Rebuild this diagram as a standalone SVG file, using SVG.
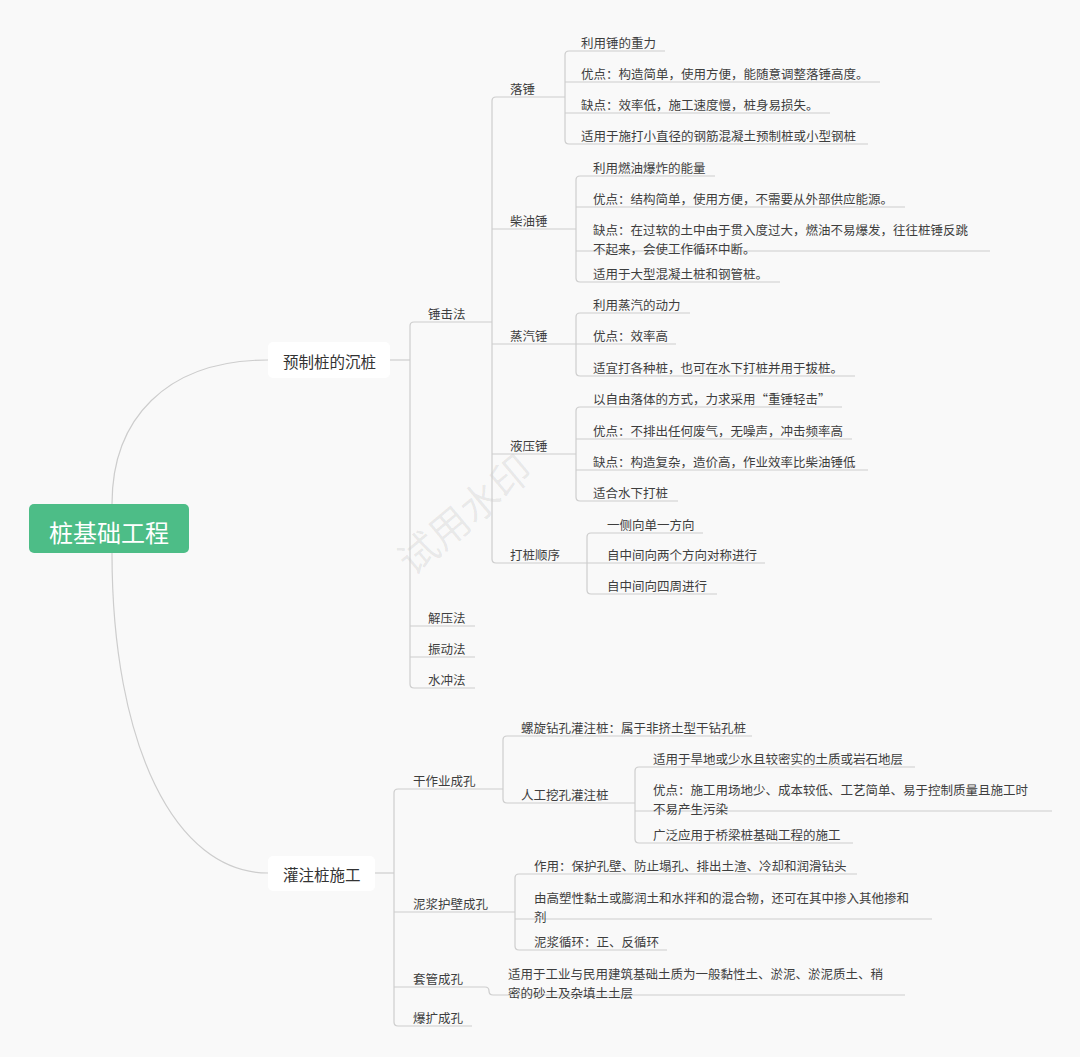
<svg xmlns="http://www.w3.org/2000/svg" width="1080" height="1057" viewBox="0 0 1080 1057">
<style>
.ln{fill:none;stroke:#cdcdcd;stroke-width:1.2}
.ul{stroke:#cdcdcd;stroke-width:1.2}
.t{font-family:"Noto Sans CJK SC","Noto Sans",sans-serif;font-size:12.5px;fill:#3e3e3e;transform:translateY(1px)}
.t1{font-family:"Noto Sans CJK SC","Noto Sans",sans-serif;font-size:15.5px;fill:#333}
.rt{font-family:"Noto Sans CJK SC","Noto Sans",sans-serif;font-size:24px;fill:#ffffff;text-anchor:middle}
.box{fill:#ffffff}
.wm{font-family:"Noto Sans CJK SC","Noto Sans",sans-serif;font-size:40px;fill:#000;fill-opacity:0.07}
</style>
<rect width="1080" height="1057" fill="#f9f9f9"/>
<text class="wm" x="465" y="529" text-anchor="middle" transform="rotate(-40 465 515)">试用水印</text>

<g id="connectors">
<path class="ln" d="M112,504 C112,420 165,360 268,360"/>
<path class="ln" d="M112,553 C112,745 175,873 268,873"/>
<path class="ln" d="M390,360 H410"/>
<path class="ln" d="M375,873 H394"/>
<path class="ln" d="M414,322 Q410,322 410,326 V684 Q410,688 414,688"/>
<path class="ln" d="M496,97 Q492,97 492,101 V559 Q492,563 496,563"/>
<path class="ln" d="M569,51 Q565,51 565,55 V140 Q565,144 569,144"/>
<path class="ln" d="M580,176 Q576,176 576,180 V278 Q576,282 580,282"/>
<path class="ln" d="M580,313 Q576,313 576,317 V372 Q576,376 580,376"/>
<path class="ln" d="M580,407 Q576,407 576,411 V497 Q576,501 580,501"/>
<path class="ln" d="M591,533 Q587,533 587,537 V590 Q587,594 591,594"/>
<path class="ln" d="M398,789 Q394,789 394,793 V1022 Q394,1026 398,1026"/>
<path class="ln" d="M507,736 Q503,736 503,740 V799 Q503,803 507,803"/>
<path class="ln" d="M639,767 Q635,767 635,771 V839 Q635,843 639,843"/>
<path class="ln" d="M519,874 Q515,874 515,878 V946 Q515,950 519,950"/>
<path class="ln" d="M485,987 Q489,987 489,991 Q489,995 493,995"/>
</g>

<g id="root">
<rect x="29" y="504" width="160" height="49" rx="5" fill="#4dbd87"/>
<text class="rt" x="109" y="541.5">桩基础工程</text>
</g>

<g id="n-yuzhi">
<rect class="box" x="268" y="342" width="122" height="36" rx="5"/>
<text class="t1" x="283" y="367.5">预制桩的沉桩</text>
</g>
<g id="n-guanzhu">
<rect class="box" x="268" y="856" width="107" height="35" rx="5"/>
<text class="t1" x="283" y="880.5">灌注桩施工</text>
</g>

<g id="n-chuiji"><line class="ul" x1="414" y1="322" x2="492" y2="322"/><text class="t" x="428" y="318">锤击法</text></g>
<g id="n-jieya"><line class="ul" x1="410" y1="626" x2="475" y2="626"/><text class="t" x="428" y="622">解压法</text></g>
<g id="n-zhendong"><line class="ul" x1="410" y1="657" x2="475" y2="657"/><text class="t" x="428" y="653">振动法</text></g>
<g id="n-shuichong"><line class="ul" x1="414" y1="688" x2="475" y2="688"/><text class="t" x="428" y="684">水冲法</text></g>

<g id="n-luochui"><line class="ul" x1="496" y1="97" x2="565" y2="97"/><text class="t" x="510" y="93">落锤</text></g>
<g id="n-chaiyou"><line class="ul" x1="492" y1="229" x2="576" y2="229"/><text class="t" x="510" y="225">柴油锤</text></g>
<g id="n-zhengqi"><line class="ul" x1="492" y1="344" x2="576" y2="344"/><text class="t" x="510" y="340">蒸汽锤</text></g>
<g id="n-yeya"><line class="ul" x1="492" y1="454" x2="576" y2="454"/><text class="t" x="510" y="450">液压锤</text></g>
<g id="n-dazhuang"><line class="ul" x1="496" y1="563" x2="587" y2="563"/><text class="t" x="510" y="559">打桩顺序</text></g>

<g id="n-lc1"><line class="ul" x1="569" y1="51" x2="665" y2="51"/><text class="t" x="581" y="47">利用锤的重力</text></g>
<g id="n-lc2"><line class="ul" x1="565" y1="82" x2="880" y2="82"/><text class="t" x="581" y="78">优点：构造简单，使用方便，能随意调整落锤高度。</text></g>
<g id="n-lc3"><line class="ul" x1="565" y1="113" x2="830" y2="113"/><text class="t" x="581" y="109">缺点：效率低，施工速度慢，桩身易损失。</text></g>
<g id="n-lc4"><line class="ul" x1="569" y1="144" x2="868" y2="144"/><text class="t" x="581" y="140">适用于施打小直径的钢筋混凝土预制桩或小型钢桩</text></g>

<g id="n-cy1"><line class="ul" x1="580" y1="176" x2="715" y2="176"/><text class="t" x="593" y="172">利用燃油爆炸的能量</text></g>
<g id="n-cy2"><line class="ul" x1="576" y1="207" x2="905" y2="207"/><text class="t" x="593" y="203">优点：结构简单，使用方便，不需要从外部供应能源。</text></g>
<g id="n-cy3"><line class="ul" x1="576" y1="251" x2="990" y2="251"/><text class="t" x="593" y="234">缺点：在过软的土中由于贯入度过大，燃油不易爆发，往往桩锤反跳</text><text class="t" x="593" y="253">不起来，会使工作循环中断。</text></g>
<g id="n-cy4"><line class="ul" x1="580" y1="282" x2="780" y2="282"/><text class="t" x="593" y="278">适用于大型混凝土桩和钢管桩。</text></g>

<g id="n-zq1"><line class="ul" x1="580" y1="313" x2="690" y2="313"/><text class="t" x="593" y="309">利用蒸汽的动力</text></g>
<g id="n-zq2"><line class="ul" x1="576" y1="344" x2="676" y2="344"/><text class="t" x="593" y="340">优点：效率高</text></g>
<g id="n-zq3"><line class="ul" x1="580" y1="376" x2="855" y2="376"/><text class="t" x="593" y="372">适宜打各种桩，也可在水下打桩并用于拔桩。</text></g>

<g id="n-yy1"><line class="ul" x1="580" y1="407" x2="842" y2="407"/><text class="t" x="593" y="403">以自由落体的方式，力求采用“重锤轻击”</text></g>
<g id="n-yy2"><line class="ul" x1="576" y1="439" x2="852" y2="439"/><text class="t" x="593" y="435">优点：不排出任何废气，无噪声，冲击频率高</text></g>
<g id="n-yy3"><line class="ul" x1="576" y1="470" x2="868" y2="470"/><text class="t" x="593" y="466">缺点：构造复杂，造价高，作业效率比柴油锤低</text></g>
<g id="n-yy4"><line class="ul" x1="580" y1="501" x2="678" y2="501"/><text class="t" x="593" y="497">适合水下打桩</text></g>

<g id="n-dz1"><line class="ul" x1="591" y1="533" x2="703" y2="533"/><text class="t" x="607" y="529">一侧向单一方向</text></g>
<g id="n-dz2"><line class="ul" x1="587" y1="563" x2="765" y2="563"/><text class="t" x="607" y="559">自中间向两个方向对称进行</text></g>
<g id="n-dz3"><line class="ul" x1="591" y1="594" x2="717" y2="594"/><text class="t" x="607" y="590">自中间向四周进行</text></g>

<g id="n-ganzuoye"><line class="ul" x1="398" y1="789" x2="503" y2="789"/><text class="t" x="413" y="785">干作业成孔</text></g>
<g id="n-nijiang"><line class="ul" x1="394" y1="912" x2="515" y2="912"/><text class="t" x="413" y="908">泥浆护壁成孔</text></g>
<g id="n-taoguan"><line class="ul" x1="394" y1="987" x2="485" y2="987"/><text class="t" x="413" y="983">套管成孔</text></g>
<g id="n-baokuo"><line class="ul" x1="398" y1="1026" x2="472" y2="1026"/><text class="t" x="413" y="1022">爆扩成孔</text></g>

<g id="n-luoxuan"><line class="ul" x1="507" y1="736" x2="752" y2="736"/><text class="t" x="521" y="732">螺旋钻孔灌注桩：属于非挤土型干钻孔桩</text></g>
<g id="n-rengong"><line class="ul" x1="507" y1="803" x2="635" y2="803"/><text class="t" x="521" y="799">人工挖孔灌注桩</text></g>

<g id="n-rg1"><line class="ul" x1="639" y1="767" x2="915" y2="767"/><text class="t" x="653" y="763">适用于旱地或少水且较密实的土质或岩石地层</text></g>
<g id="n-rg2"><line class="ul" x1="635" y1="811" x2="1052" y2="811"/><text class="t" x="653" y="794">优点：施工用场地少、成本较低、工艺简单、易于控制质量且施工时</text><text class="t" x="653" y="813">不易产生污染</text></g>
<g id="n-rg3"><line class="ul" x1="639" y1="843" x2="853" y2="843"/><text class="t" x="653" y="839">广泛应用于桥梁桩基础工程的施工</text></g>

<g id="n-nj1"><line class="ul" x1="519" y1="874" x2="857" y2="874"/><text class="t" x="534" y="870">作用：保护孔壁、防止塌孔、排出土渣、冷却和润滑钻头</text></g>
<g id="n-nj2"><line class="ul" x1="515" y1="919" x2="932" y2="919"/><text class="t" x="534" y="902">由高塑性黏土或膨润土和水拌和的混合物，还可在其中掺入其他掺和</text><text class="t" x="534" y="921">剂</text></g>
<g id="n-nj3"><line class="ul" x1="519" y1="950" x2="667" y2="950"/><text class="t" x="534" y="946">泥浆循环：正、反循环</text></g>

<g id="n-tg1"><line class="ul" x1="493" y1="995" x2="905" y2="995"/><text class="t" x="508" y="978">适用于工业与民用建筑基础土质为一般黏性土、淤泥、淤泥质土、稍</text><text class="t" x="508" y="997">密的砂土及杂填土土层</text></g>
</svg>
